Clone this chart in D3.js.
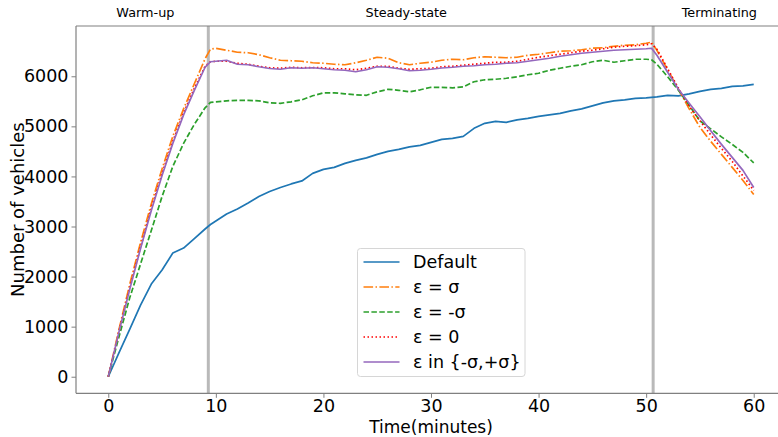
<!DOCTYPE html>
<html>
<head>
<meta charset="utf-8">
<script src="https://cdn.jsdelivr.net/npm/d3@7/dist/d3.min.js"></script>
<style>
  html, body { margin: 0; padding: 0; background: #fff; }
  svg { display: block; font-family: "DejaVu Sans", sans-serif; }
</style>
</head>
<body>
<svg id="chart" width="778" height="437"></svg>
<script>
// Simulation time (minutes) at which vehicle counts were sampled
const minutes = [0,1,2,3,4,5,6,7,8,9,9.5,
  10,11,12,13,14,15,16,17,18,19,20,21,22,23,24,25,26,27,28,29,30,
  31,32,33,34,35,36,37,38,39,40,41,42,43,44,45,46,47,48,49,50,50.5,
  51,52,53,54,55,56,57,58,59,60];

// Number of vehicles in the network per scenario
const defaultCounts = [0,480,950,1430,1850,2130,2470,2570,2760,2950,3040,
  3110,3250,3350,3470,3600,3700,3780,3850,3910,4060,4140,4180,4260,4320,4370,4440,4500,4540,4590,4620,4680,
  4740,4760,4800,4960,5060,5100,5080,5130,5160,5200,5230,5260,5310,5350,5410,5470,5510,5530,5560,5570,5580,
  5590,5620,5610,5650,5700,5740,5760,5800,5810,5840];

const epsPlusSigma = [0,950,1850,2680,3450,4150,4800,5350,5850,6350,6540,
  6560,6520,6480,6470,6430,6370,6320,6310,6300,6270,6260,6240,6230,6270,6320,6380,6360,6270,6230,6260,6280,
  6320,6340,6330,6370,6390,6380,6370,6380,6420,6440,6470,6500,6510,6530,6560,6570,6600,6620,6630,6660,6680,
  6520,6130,5740,5350,4980,4700,4440,4180,3920,3640];

const epsMinusSigma = [0,800,1580,2250,2920,3600,4200,4660,5040,5370,5480,
  5490,5510,5520,5520,5510,5470,5460,5490,5530,5610,5670,5670,5650,5630,5620,5690,5740,5720,5690,5730,5780,
  5780,5770,5790,5890,5930,5940,5960,5990,6030,6060,6120,6160,6200,6230,6290,6320,6280,6310,6340,6340,6330,
  6240,5990,5720,5420,5110,4950,4790,4640,4480,4270];

const epsZero = [0,910,1770,2590,3360,4060,4700,5270,5760,6200,6290,
  6300,6300,6260,6240,6200,6170,6160,6180,6170,6175,6170,6150,6150,6130,6160,6200,6200,6160,6140,6150,6160,
  6190,6200,6220,6240,6260,6280,6280,6300,6340,6380,6410,6440,6470,6500,6520,6550,6580,6600,6610,6630,6650,
  6540,6150,5760,5400,5110,4830,4560,4300,4010,3720];

const epsEither = [0,900,1750,2560,3320,4020,4660,5230,5720,6180,6290,
  6300,6320,6240,6230,6190,6155,6140,6170,6160,6170,6150,6130,6120,6090,6130,6190,6180,6150,6110,6120,6140,
  6165,6180,6200,6210,6230,6240,6260,6270,6300,6330,6360,6400,6430,6460,6480,6500,6520,6530,6540,6550,6560,
  6420,6080,5740,5460,5190,4910,4640,4380,4120,3780];

const seriesNames = ["Default", "ε = σ", "ε = -σ", "ε = 0", "ε in {-σ,+σ}"];
const seriesValues = [defaultCounts, epsPlusSigma, epsMinusSigma, epsZero, epsEither];

// Phase boundaries (minutes) and phase captions
const phaseBoundaries = [9.3, 50.65];
const phaseNames = ["Warm-up", "Steady-state", "Terminating"];
const phaseLabelAt = [3.45, 27.7, 56.8];

const xTicks = [0, 10, 20, 30, 40, 50, 60];
const yTicks = [0, 1000, 2000, 3000, 4000, 5000, 6000];

// Drawing styles
const styles = [
  { color: "#1f77b4", dash: null },
  { color: "#ff7f0e", dash: "9.6,2.4,1.5,2.4" },
  { color: "#2ca02c", dash: "5.5,2.4" },
  { color: "#ff0000", dash: "1.5,2.5" },
  { color: "#9467bd", dash: null }
];

const svg = d3.select("#chart");
const plot = { left: 76, right: 786, top: 26, bottom: 393.3 };

const x = d3.scaleLinear().domain([-3, 63]).range([plot.left, plot.right]);
const y = d3.scaleLinear().domain([-331, 7004]).range([plot.bottom, plot.top]);

svg.append("defs").append("clipPath").attr("id", "plotClip")
  .append("rect")
  .attr("x", plot.left).attr("y", plot.top)
  .attr("width", plot.right - plot.left).attr("height", plot.bottom - plot.top);

// Phase separators
svg.append("g").selectAll("line")
  .data(phaseBoundaries)
  .join("line")
  .attr("x1", d => x(d)).attr("x2", d => x(d))
  .attr("y1", plot.top).attr("y2", plot.bottom)
  .attr("stroke", "#808080")
  .attr("stroke-opacity", 0.55)
  .attr("stroke-width", 3);

// Series lines
const line = d3.line()
  .x((d, i) => x(minutes[i]))
  .y(d => y(d));

svg.append("g").attr("clip-path", "url(#plotClip)")
  .selectAll("path")
  .data(seriesValues)
  .join("path")
  .attr("d", d => line(d))
  .attr("fill", "none")
  .attr("stroke", (d, i) => styles[i].color)
  .attr("stroke-width", 1.7)
  .attr("stroke-linejoin", "round")
  .attr("stroke-dasharray", (d, i) => styles[i].dash);

// Axes
const axisColor = "#808080";
const xAxis = svg.append("g")
  .attr("transform", `translate(0,${plot.bottom})`)
  .call(d3.axisBottom(x).tickValues(xTicks).tickSize(4.5).tickPadding(2).tickFormat(d3.format("d")));
const yAxis = svg.append("g")
  .attr("transform", `translate(${plot.left},0)`)
  .call(d3.axisLeft(y).tickValues(yTicks).tickSize(4.5).tickPadding(3).tickFormat(d3.format("d")));

[xAxis, yAxis].forEach(g => {
  g.select(".domain").remove();
  g.selectAll(".tick line").attr("stroke", axisColor).attr("stroke-width", 1);
  g.selectAll(".tick text")
    .attr("fill", "#000")
    .style("font-family", "DejaVu Sans")
    .style("font-size", "17.5px");
});

// Spines
const spines = svg.append("g").attr("stroke", axisColor).attr("stroke-width", 1.2).attr("fill", "none");
spines.append("line").attr("x1", plot.left).attr("x2", plot.left).attr("y1", plot.top).attr("y2", plot.bottom);
spines.append("line").attr("x1", plot.left).attr("x2", plot.right).attr("y1", plot.top).attr("y2", plot.top);
spines.append("line").attr("x1", plot.left).attr("x2", plot.right).attr("y1", plot.bottom).attr("y2", plot.bottom);
spines.append("line").attr("x1", plot.right).attr("x2", plot.right).attr("y1", plot.top).attr("y2", plot.bottom);

// Axis titles
svg.append("text")
  .attr("x", (plot.left + plot.right) / 2)
  .attr("y", 433)
  .attr("text-anchor", "middle")
  .style("font-size", "17px")
  .text("Time(minutes)");

svg.append("text")
  .attr("transform", `translate(24,${(plot.top + plot.bottom) / 2}) rotate(-90)`)
  .attr("text-anchor", "middle")
  .style("font-size", "18px")
  .text("Number of vehicles");

// Phase captions above the plot
svg.append("g").selectAll("text")
  .data(phaseNames)
  .join("text")
  .attr("x", (d, i) => x(phaseLabelAt[i]))
  .attr("y", 17)
  .attr("text-anchor", "middle")
  .style("font-size", "12.8px")
  .text(d => d);

// Legend
const legend = svg.append("g");
legend.append("rect")
  .attr("x", 357.5).attr("y", 248.5)
  .attr("width", 167.5).attr("height", 128)
  .attr("rx", 3)
  .attr("fill", "#fff").attr("fill-opacity", 0.85)
  .attr("stroke", "#d6d6d6").attr("stroke-width", 1);

const rows = legend.selectAll("g.row")
  .data(seriesNames)
  .join("g")
  .attr("class", "row")
  .attr("transform", (d, i) => `translate(0,${262 + i * 25})`);

rows.append("line")
  .attr("x1", 363.5).attr("x2", 399.5)
  .attr("y1", 0).attr("y2", 0)
  .attr("stroke", (d, i) => styles[i].color)
  .attr("stroke-width", 1.7)
  .attr("stroke-dasharray", (d, i) => styles[i].dash);

rows.append("text")
  .attr("x", 413)
  .attr("y", 6.3)
  .style("font-size", "17.5px")
  .text(d => d);
</script>
</body>
</html>
